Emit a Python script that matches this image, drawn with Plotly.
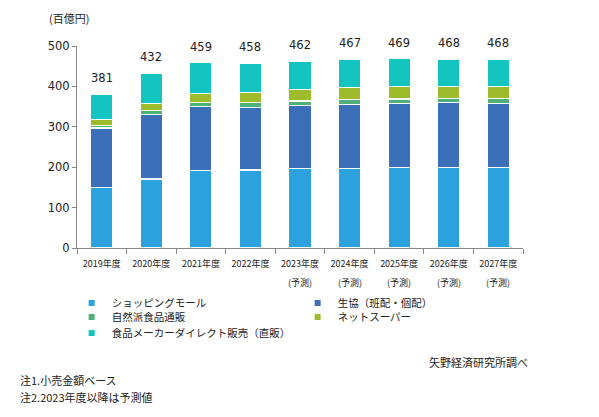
import plotly.graph_objects as go

years = ["2019年度", "2020年度", "2021年度", "2022年度", "2023年度",
         "2024年度", "2025年度", "2026年度", "2027年度"]
forecast_years = ["2023年度", "2024年度", "2025年度", "2026年度", "2027年度"]

shopping_mall = [150, 171, 191, 193, 196, 196, 199, 199, 199]
coop = [147, 160, 159, 155, 156, 159, 159, 161, 159]
natural_food = [7, 9, 10, 12, 12, 12, 11, 10, 12]
net_super = [15, 18, 22, 25, 28, 30, 30, 30, 30]
direct_sales = [62, 74, 77, 73, 70, 70, 70, 68, 68]
totals = [381, 432, 459, 458, 462, 467, 469, 468, 468]

series = [
    ("ショッピングモール", shopping_mall, "#2ba2dd"),
    ("生協（班配・個配）", coop, "#3b6fb7"),
    ("自然派食品通販", natural_food, "#4fb179"),
    ("ネットスーパー", net_super, "#9dbb2a"),
    ("食品メーカーダイレクト販売（直販）", direct_sales, "#14c4c1"),
]
legend_rows = ["legend", "legend", "legend2", "legend2", "legend3"]

jp_font = "Noto Sans CJK JP"

fig = go.Figure()
for name, vals, color in series:
    fig.add_trace(go.Bar(
        x=years, y=vals, name=name, showlegend=False,
        marker=dict(color=color, line=dict(color="white", width=1.2)),
        hoverinfo="y",
    ))

# legend entries, one legend per row
for (name, vals, color), lg in zip(series, legend_rows):
    fig.add_trace(go.Scatter(
        x=[None], y=[None], mode="markers", name=name,
        marker=dict(symbol="square", size=6, color=color),
        legend=lg,
    ))

def row_legend(y):
    return dict(x=-0.012, y=y, xanchor="left", yanchor="middle",
                orientation="h", traceorder="normal",
                entrywidth=181, entrywidthmode="pixels",
                font=dict(family=jp_font, size=10.5, color="#222"),
                itemwidth=30, bgcolor="rgba(0,0,0,0)", borderwidth=0)

notes = [
    dict(text="(百億円)", xref="paper", yref="paper", x=-0.067, y=1.14,
         xanchor="left", yanchor="middle", showarrow=False,
         font=dict(family=jp_font, size=11)),
    dict(text="矢野経済研究所調べ", xref="paper", yref="paper", x=1.016, y=-0.564,
         xanchor="right", yanchor="middle", showarrow=False,
         font=dict(family=jp_font, size=11)),
    dict(text="注1.小売金額ベース", xref="paper", yref="paper", x=-0.132, y=-0.653,
         xanchor="left", yanchor="middle", showarrow=False,
         font=dict(family=jp_font, size=11)),
    dict(text="注2.2023年度以降は予測値", xref="paper", yref="paper", x=-0.132, y=-0.738,
         xanchor="left", yanchor="middle", showarrow=False,
         font=dict(family=jp_font, size=11)),
]
# totals above the stacks
for yr, t in zip(years, totals):
    notes.append(dict(x=yr, y=t, text=str(t), showarrow=False,
                      xanchor="center", yanchor="bottom", yshift=7,
                      font=dict(family="DejaVu Sans", size=11.5, color="#222")))
# second line under forecast years
for yr in forecast_years:
    notes.append(dict(x=yr, y=0, text="(予測)", showarrow=False,
                      xanchor="center", yanchor="middle", yshift=-34,
                      font=dict(family=jp_font, size=9, color="#222")))

# page body adds 8px around the figure, so the figure is 16px smaller
fig.update_layout(
    width=583, height=401,
    margin=dict(l=69, r=68, t=38, b=161, autoexpand=False),
    plot_bgcolor="white", paper_bgcolor="white",
    barmode="stack", bargap=0.55,
    font=dict(family=jp_font, size=11, color="#222"),
    legend=row_legend(-0.272),
    legend2=row_legend(-0.342),
    legend3=row_legend(-0.421),
    annotations=notes,
)

fig.update_xaxes(
    tickangle=0, ticklabelstandoff=7,
    showline=True, linecolor="#888", linewidth=1,
    ticks="outside", ticklen=5, tickcolor="#888", tickson="boundaries",
    tickfont=dict(family=jp_font, size=9, color="#222"),
    showgrid=False, automargin=False,
)
fig.update_yaxes(
    range=[0, 500], dtick=100, showgrid=False,
    showline=True, linecolor="#888", linewidth=1,
    ticks="outside", ticklen=4, tickcolor="#888",
    tickfont=dict(family="DejaVu Sans", size=11.5, color="#222"),
    zeroline=False, automargin=False,
)

fig.write_html("out.html")
